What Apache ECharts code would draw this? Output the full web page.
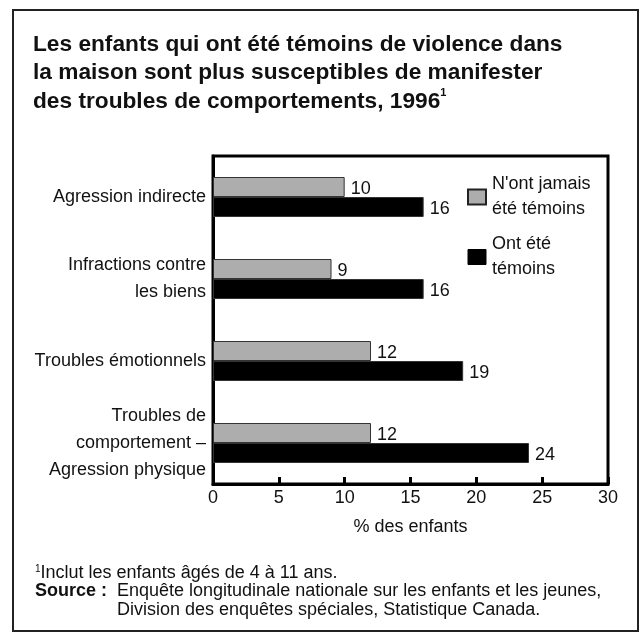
<!DOCTYPE html>
<html>
<head>
<meta charset="utf-8">
<script src="https://cdn.jsdelivr.net/npm/echarts@6/dist/echarts.min.js"></script>
<style>
  html, body { margin: 0; padding: 0; background: #fff; }
  #chart { width: 644px; height: 634px; }
</style>
</head>
<body>
<div id="chart"></div>
<script>
// catégories (de haut en bas)
var categories = [
  'Agression indirecte',
  'Infractions contre\nles biens',
  'Troubles émotionnels',
  'Troubles de\ncomportement –\nAgression physique'
]
var seriesNames = ['N\'ont jamais\nété témoins', 'Ont été\ntémoins']
var jamaisTemoins = [10, 9, 12, 12]
var temoins = [16, 16, 19, 24]
var xTicks = [0, 5, 10, 15, 20, 25, 30]

var font = '"Liberation Sans", Arial, sans-serif'
var fs = 18

var chart = echarts.init(document.getElementById('chart'))
chart.setOption({
  animation: false,
  backgroundColor: '#fff',
  textStyle: { fontFamily: font },
  title: {
    text: 'Les enfants qui ont été témoins de violence dans\nla maison sont plus susceptibles de manifester\ndes troubles de comportements, 1996{s|1}',
    left: 33,
    top: 30,
    padding: 0,
    textStyle: {
      fontFamily: font,
      fontSize: 22.7,
      fontWeight: 'bold',
      color: '#111',
      lineHeight: 28.5,
      rich: {
        s: { fontSize: 11, fontWeight: 'bold', verticalAlign: 'top', lineHeight: 20, color: '#111', fontFamily: font }
      }
    }
  },
  legend: {
    orient: 'vertical',
    left: 467,
    top: 172,
    itemWidth: 18,
    itemHeight: 15,
    itemGap: 10,
    padding: 0,
    icon: 'rect',
    textStyle: { fontFamily: font, fontSize: fs, lineHeight: 25, color: '#111', padding: [0, 0, 0, 1] },
    data: [
      { name: seriesNames[0], itemStyle: { borderColor: '#222', borderWidth: 2 } },
      { name: seriesNames[1], itemStyle: { borderColor: '#000', borderWidth: 1 } }
    ]
  },
  grid: {
    left: 213,
    top: 156,
    right: 36,
    bottom: 150,
    show: true,
    borderColor: '#000',
    borderWidth: 3
  },
  xAxis: {
    type: 'value',
    min: xTicks[0],
    max: xTicks[xTicks.length - 1],
    interval: 5,
    name: '% des enfants',
    nameLocation: 'middle',
    nameGap: 34,
    nameTextStyle: { fontFamily: font, fontSize: fs, color: '#111' },
    axisLine: { show: true, lineStyle: { color: '#000', width: 3 } },
    axisTick: { show: true, inside: true, length: 7, lineStyle: { color: '#000', width: 3 } },
    axisLabel: { fontFamily: font, fontSize: fs, color: '#111', margin: 5 },
    splitLine: { show: false }
  },
  yAxis: {
    type: 'category',
    inverse: true,
    data: categories,
    axisLine: { show: true, lineStyle: { color: '#000', width: 3 } },
    axisTick: { show: false },
    axisLabel: { fontFamily: font, fontSize: fs, color: '#111', margin: 7, lineHeight: 27, align: 'right' }
  },
  series: [
    {
      name: seriesNames[0],
      type: 'bar',
      data: jamaisTemoins,
      barWidth: 20,
      barGap: '0%',
      itemStyle: { color: '#adadad', borderColor: '#333', borderWidth: 1 },
      label: { show: true, position: 'right', distance: 6, offset: [0, 2], fontFamily: font, fontSize: fs, color: '#111' }
    },
    {
      name: seriesNames[1],
      type: 'bar',
      data: temoins,
      barWidth: 20,
      barGap: '0%',
      itemStyle: { color: '#000', borderColor: '#333', borderWidth: 1 },
      label: { show: true, position: 'right', distance: 6, offset: [0, 2], fontFamily: font, fontSize: fs, color: '#111' }
    }
  ],
  graphic: [
    {
      type: 'rect',
      shape: { x: 13, y: 10, width: 625, height: 621 },
      style: { fill: null, stroke: '#222', lineWidth: 2 },
      silent: true
    },
    {
      type: 'text',
      left: 35,
      top: 564,
      style: {
        text: '{s|1}Inclut les enfants âgés de 4 à 11 ans.',
        font: fs + 'px ' + font,
        fill: '#111',
        rich: { s: { fontSize: 10, verticalAlign: 'top', lineHeight: 13, fill: '#111', fontFamily: font } }
      }
    },
    {
      type: 'text',
      left: 35,
      top: 582,
      style: { text: 'Source :', font: 'bold ' + fs + 'px ' + font, fill: '#111' }
    },
    {
      type: 'text',
      left: 117,
      top: 582,
      style: {
        text: 'Enquête longitudinale nationale sur les enfants et les jeunes,\nDivision des enquêtes spéciales, Statistique Canada.',
        font: fs + 'px ' + font,
        fill: '#111',
        lineHeight: 19
      }
    }
  ]
})
</script>
</body>
</html>
